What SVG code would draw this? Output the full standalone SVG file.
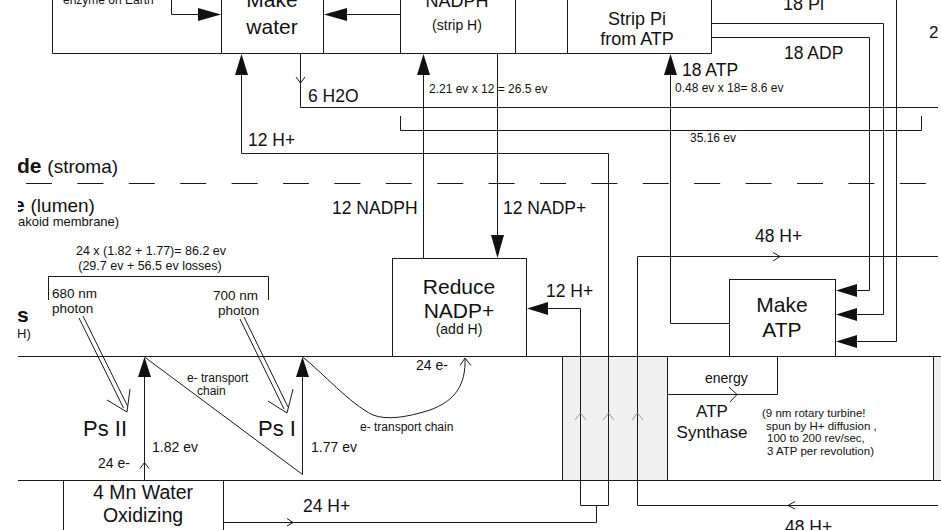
<svg xmlns="http://www.w3.org/2000/svg" width="941" height="530" viewBox="0 0 941 530">
<style>
text{font-family:"Liberation Sans",Arial,sans-serif;fill:#111}
.ln{fill:none;stroke:#1a1a1a;stroke-width:1}
.ah{fill:#111;stroke:none}
.ch{fill:none;stroke:#1a1a1a;stroke-width:1}
.gch{fill:none;stroke:#999;stroke-width:1}
.big{font-size:21px}
.lab{font-size:17.5px}
.sm{font-size:12px}
.md{font-size:14px}
.ph{font-size:13.5px}
.mid{text-anchor:middle}
.b{font-weight:bold}
</style>
<defs>
<clipPath id="clipL"><rect x="18" y="0" width="923" height="530"/></clipPath>
</defs>
<rect width="941" height="530" fill="#fff"/>

<!-- membrane -->
<g id="membrane">
<rect x="562" y="356.5" width="105" height="124" fill="#f0f0f0"/>
<rect x="933" y="356.5" width="8" height="124" fill="#f0f0f0"/>
<path class="ln" d="M18,356.5 H941 M18,480.5 H941 M562.5,356 V480 M667.5,356 V480 M933.5,356 V480"/>
<path class="ln" d="M18,183.5 H941" stroke-dasharray="26 25.4" stroke-dashoffset="-8"/>
</g>

<!-- region labels -->
<g id="region-labels" clip-path="url(#clipL)">
<text x="17" y="173" style="font-size:21px"><tspan class="b">de</tspan> <tspan style="font-size:19px">(stroma)</tspan></text>
<text x="13" y="212" style="font-size:21px"><tspan class="b">e</tspan> <tspan style="font-size:19px">(lumen)</tspan></text>
<text x="18" y="226" style="font-size:13px">akoid membrane)</text>
<text x="17" y="322" class="b big">s</text>
<text x="17" y="338" style="font-size:13px">H)</text>
</g>

<!-- top row of boxes -->
<g id="top-left-box">
<path class="ln" d="M52.5,0 V53.5 H221.5"/>
<text x="63" y="4" class="sm">enzyme on Earth</text>
</g>
<g id="make-water">
<path class="ln" d="M221.5,0 V53.5 H323.5 V0"/>
<text x="272" y="7" class="big mid">Make</text>
<text x="272" y="34" class="big mid">water</text>
</g>
<g id="strip-nadph">
<path class="ln" d="M400.5,0 V53.5 H515.5 V0 M323.5,53.5 H400.5"/>
<text x="457" y="7" class="mid" style="font-size:18px">NADPH</text>
<text x="457" y="30" class="md mid">(strip H)</text>
</g>
<g id="strip-pi">
<path class="ln" d="M567.5,0 V53.5 H711.5 V0 M515.5,53.5 H567.5"/>
<text x="637" y="25" class="mid" style="font-size:18px">Strip Pi</text>
<text x="637" y="45" class="mid" style="font-size:18px">from ATP</text>
</g>

<!-- lumen side boxes -->
<g id="reduce-nadp">
<rect class="ln" x="392.5" y="258.5" width="134" height="98"/>
<text x="459" y="294" class="big mid">Reduce</text>
<text x="459" y="318" class="big mid">NADP+</text>
<text x="459" y="334" class="md mid">(add H)</text>
</g>
<g id="make-atp">
<rect class="ln" x="729.5" y="279.5" width="106" height="77"/>
<text x="782" y="312" class="big mid">Make</text>
<text x="782" y="337" class="big mid">ATP</text>
</g>
<g id="water-oxidizing">
<path class="ln" d="M63.5,530 V480.5 H223.5 V530"/>
<text x="143" y="499" class="mid" style="font-size:19.5px">4 Mn Water</text>
<text x="143" y="522" class="mid" style="font-size:19.5px">Oxidizing</text>
</g>
<g id="ps2">
<text x="83" y="436" style="font-size:22px">Ps II</text>
</g>
<g id="ps1">
<text x="258" y="436" style="font-size:22px">Ps I</text>
</g>
<g id="atp-synthase">
<path class="ln" d="M667.5,394.5 H777.5 V356"/>
<text x="705" y="383" class="md">energy</text>
<path class="ch" d="M729,387 L737,394.5 L730,402"/>
<text x="712" y="417" class="mid" style="font-size:17px">ATP</text>
<text x="712" y="438" class="mid" style="font-size:17px">Synthase</text>
<g style="font-size:11.5px">
<text x="762" y="417">(9 nm rotary turbine!</text>
<text x="766" y="430">spun by H+ diffusion ,</text>
<text x="767" y="442">100 to 200 rev/sec,</text>
<text x="767" y="455">3 ATP per revolution)</text>
</g>
</g>

<!-- connectors -->
<g id="connectors">
<path class="ln" d="M171.5,0 V14.5 H200"/>
<path class="ah" d="M221,14.5 L198,8 L198,21 Z"/>
<path class="ln" d="M400,14.5 H345"/>
<path class="ah" d="M324,14.5 L347,8 L347,21 Z"/>
<path class="ln" d="M711.5,23.5 H883.5 V314.5 H856"/>
<path class="ln" d="M711.5,37.5 H869.5 V290.5 H856"/>
<path class="ln" d="M896.5,0 V341.5 H856"/>
<path class="ah" d="M836,290.5 L857,284 L857,297 Z"/>
<path class="ah" d="M836,314.5 L857,308 L857,321 Z"/>
<path class="ah" d="M836,341.5 L857,335 L857,348 Z"/>
<path class="ln" d="M729.5,323.5 H670.5 V74"/>
<path class="ah" d="M670.5,54 L664,75 L677,75 Z"/>
<path class="ln" d="M300.5,54 V107.5 H938"/>
<path class="ch" d="M296,77 L300.5,83 L305,77"/>
<path class="ln" d="M400.5,116 V130.5 H921.5 V116"/>
<path class="ln" d="M608.5,505.5 V153.5 H241.5 V74"/>
<path class="ah" d="M241.5,54 L235,75 L248,75 Z"/>
<path class="ln" d="M423.5,258 V74"/>
<path class="ah" d="M423.5,54 L417,75 L430,75 Z"/>
<path class="ln" d="M497.5,54 V237"/>
<path class="ah" d="M497.5,258 L491,235 L504,235 Z"/>
<path class="ln" d="M580.5,505.5 V308.5 H547"/>
<path class="ah" d="M527,308.5 L548,302 L548,315 Z"/>
<path class="ln" d="M637.5,505.5 V256.5 H938"/>
<path class="ch" d="M773,252.5 L780,256.5 L773,261"/>
<path class="ln" d="M637.5,505.5 H938"/>
<path class="ch" d="M795,501.5 L788,505.5 L795,509"/>
<path class="ln" d="M580.5,505.5 H608.5 M596.5,505.5 V522.5 H223.5"/>
<path class="ch" d="M287,518.5 L293,522.5 L287,526"/>
<path class="gch" d="M575,420 L580.5,413 L586,420 M603,420 L608.5,413 L614,420 M632,420 L637.5,413 L643,420"/>
<path class="ln" d="M48.5,300 V276.5 H268.5 V300"/>
<path class="ln" d="M79,318 L123.5,408 M83,316 L127.5,406"/>
<path class="ch" d="M107,400 L127,412 L130,389"/>
<path class="ln" d="M240,319 L284,409 M244,317 L288,407"/>
<path class="ch" d="M268,401 L287,413 L293,389"/>
<path class="ln" d="M144.5,480 V376"/>
<path class="ah" d="M144.5,357 L138,377 L151,377 Z"/>
<path class="ch" d="M140,468.5 L144.5,462.5 L149,468.5"/>
<path class="ln" d="M144.5,357 L302.5,474.5 V376"/>
<path class="ah" d="M302.5,357 L296,377 L309,377 Z"/>
<path class="ln" d="M302.5,357 C322,372 350,404 373,415 C386,420 405,418 430,410 C455,401 466,385 465,358"/>
<path class="ch" d="M460,365.5 L465,358 L471,365.5"/>
</g>

<!-- connector labels -->
<g id="labels">
<text x="783" y="10" style="font-size:18px">18 Pi</text>
<text x="929" y="38" style="font-size:17px">2</text>
<text x="784" y="59" class="lab">18 ADP</text>
<text x="682" y="76" class="lab">18 ATP</text>
<text x="675" y="92" class="sm">0.48 ev x 18= 8.6 ev</text>
<text x="429" y="93" class="sm">2.21 ev x 12 = 26.5 ev</text>
<text x="308" y="102" class="lab">6 H2O</text>
<text x="690" y="142" class="sm">35.16 ev</text>
<text x="248" y="146" class="lab">12 H+</text>
<text x="332" y="214" class="lab">12 NADPH</text>
<text x="503" y="214" class="lab">12 NADP+</text>
<text x="151" y="255" class="mid" style="font-size:12.5px">24 x (1.82 + 1.77)= 86.2 ev</text>
<text x="150" y="270" class="mid" style="font-size:12.5px">(29.7 ev + 56.5 ev losses)</text>
<text x="755" y="242" class="lab">48 H+</text>
<text x="546" y="297" class="lab">12 H+</text>
<text x="52" y="298" class="ph">680 nm</text>
<text x="52" y="313" class="ph">photon</text>
<text x="213" y="300" class="ph">700 nm</text>
<text x="218" y="315" class="ph">photon</text>
<text x="187" y="382" class="sm">e- transport</text>
<text x="197" y="395" class="sm">chain</text>
<text x="416" y="370" class="md">24 e-</text>
<text x="360" y="431" class="sm">e- transport chain</text>
<text x="152" y="452" class="md">1.82 ev</text>
<text x="311" y="452" class="md">1.77 ev</text>
<text x="98" y="468" class="md">24 e-</text>
<text x="303" y="512" class="lab">24 H+</text>
<text x="785" y="533" class="lab">48 H+</text>
</g>
</svg>
